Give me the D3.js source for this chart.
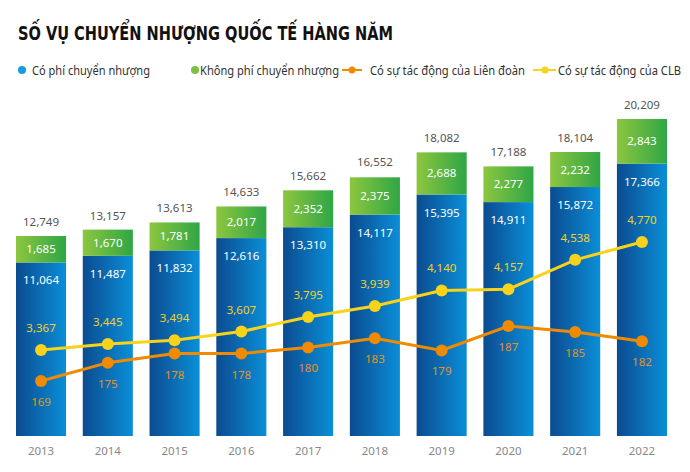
<!DOCTYPE html>
<html><head><meta charset="utf-8">
<script src="https://cdn.jsdelivr.net/npm/d3@7"></script>
<style>body{margin:0;background:#fff;}svg{display:block;font-family:"Noto Sans",sans-serif;}</style>
</head><body><div id="chart"></div>
<script>
const years = ["2013","2014","2015","2016","2017","2018","2019","2020","2021","2022"];
const feeValues = [11064,11487,11832,12616,13310,14117,15395,14911,15872,17366];
const freeValues = [1685,1670,1781,2017,2352,2375,2688,2277,2232,2843];
const totalValues = [12749,13157,13613,14633,15662,16552,18082,17188,18104,20209];
const federationValues = [169,175,178,178,180,183,179,187,185,182];
const clubValues = [3367,3445,3494,3607,3795,3939,4140,4157,4538,4770];
const legendLabels = ["Có phí chuyển nhượng","Không phí chuyển nhượng","Có sự tác động của Liên đoàn","Có sự tác động của CLB"];
const title = "SỐ VỤ CHUYỂN NHƯỢNG QUỐC TẾ HÀNG NĂM";

const W=690,H=472;
const svg=d3.select("#chart").append("svg").attr("width",W).attr("height",H);
const defs=svg.append("defs");
const gb=defs.append("linearGradient").attr("id","gBlue").attr("x1","0").attr("x2","1").attr("y1","0").attr("y2","0");
gb.append("stop").attr("offset","0").attr("stop-color","#0b4b90");
gb.append("stop").attr("offset","1").attr("stop-color","#0a8fd8");
const gg=defs.append("linearGradient").attr("id","gGreen").attr("x1","0").attr("x2","1").attr("y1","0").attr("y2","0");
gg.append("stop").attr("offset","0").attr("stop-color","#8dc63f");
gg.append("stop").attr("offset","1").attr("stop-color","#2ea646");

const x=d3.scaleBand().domain(years).range([16,667]).paddingInner(0.25).paddingOuter(0);
const y=d3.scaleLinear().domain([0,20209]).range([436,119]);
const yClub=d3.scaleLinear().domain([3367,4770]).range([350,242]);
const yFed=d3.scaleLinear().domain([169,187]).range([381,326]);
const bw=x.bandwidth();
const fmt=d3.format(",");

// title
svg.append("text").attr("x",18).attr("y",40).text(title)
  .attr("font-family","'DejaVu Sans Condensed','Liberation Sans Narrow',sans-serif")
  .attr("font-weight","bold").attr("font-size",19).attr("fill","#111")
  .attr("textLength",375).attr("lengthAdjust","spacingAndGlyphs");

// legend
const lg=svg.append("g").attr("font-size",12).attr("fill","#333");
const legendText=(xx,w,t)=>lg.append("text").attr("x",xx).attr("y",74.5).text(t).attr("textLength",w).attr("lengthAdjust","spacingAndGlyphs");
lg.append("circle").attr("cx",22).attr("cy",70).attr("r",4).attr("fill","#1a9be0");
legendText(32,118,legendLabels[0]);
lg.append("circle").attr("cx",195).attr("cy",70).attr("r",4).attr("fill","#7cc242");
legendText(200,139,legendLabels[1]);
lg.append("line").attr("x1",342).attr("x2",362).attr("y1",70).attr("y2",70).attr("stroke","#f08a00").attr("stroke-width",2);
lg.append("circle").attr("cx",352).attr("cy",70).attr("r",3.5).attr("fill","#f08a00");
legendText(370,155,legendLabels[2]);
lg.append("line").attr("x1",533).attr("x2",556).attr("y1",70).attr("y2",70).attr("stroke","#f9d21a").attr("stroke-width",2);
lg.append("circle").attr("cx",545).attr("cy",70).attr("r",3.5).attr("fill","#f9d21a");
legendText(558,123,legendLabels[3]);

// bars
const bars=svg.append("g");
bars.selectAll(".b").data(years).join("rect")
  .attr("x",d=>x(d)).attr("width",bw)
  .attr("y",(d,i)=>y(feeValues[i])).attr("height",(d,i)=>y(0)-y(feeValues[i]))
  .attr("fill","url(#gBlue)");
bars.selectAll(".g").data(years).join("rect")
  .attr("x",d=>x(d)).attr("width",bw)
  .attr("y",(d,i)=>y(feeValues[i]+freeValues[i])).attr("height",(d,i)=>y(feeValues[i])-y(feeValues[i]+freeValues[i]))
  .attr("fill","url(#gGreen)");

const lab=svg.append("g").attr("font-size",11.5).attr("text-anchor","middle");
years.forEach((yr,i)=>{
  const cx=x(yr)+bw/2;
  lab.append("text").attr("x",cx).attr("y",y(totalValues[i])-10).attr("fill","#555").text(fmt(totalValues[i]));
  lab.append("text").attr("x",cx).attr("y",(y(feeValues[i])+y(feeValues[i]+freeValues[i]))/2+4).attr("fill","#fff").text(fmt(freeValues[i]));
  lab.append("text").attr("x",cx).attr("y",y(feeValues[i])+22).attr("fill","#fff").text(fmt(feeValues[i]));
  lab.append("text").attr("x",cx).attr("y",yClub(clubValues[i])-18).attr("fill","#f3d12a").text(fmt(clubValues[i]));
  lab.append("text").attr("x",cx).attr("y",yFed(federationValues[i])+25).attr("fill","#e6921c").text(fmt(federationValues[i]));
  lab.append("text").attr("x",cx).attr("y",455).attr("fill","#888").text(yr);
});

// lines
const lineClub=d3.line().x((d,i)=>x(years[i])+bw/2).y(d=>yClub(d));
const lineFed=d3.line().x((d,i)=>x(years[i])+bw/2).y(d=>yFed(d));
svg.append("path").attr("d",lineFed(federationValues)).attr("fill","none").attr("stroke","#f08a00").attr("stroke-width",3);
svg.append("path").attr("d",lineClub(clubValues)).attr("fill","none").attr("stroke","#f9d21a").attr("stroke-width",3);
svg.append("g").selectAll("circle").data(federationValues).join("circle")
  .attr("cx",(d,i)=>x(years[i])+bw/2).attr("cy",d=>yFed(d)).attr("r",6).attr("fill","#f08a00");
svg.append("g").selectAll("circle").data(clubValues).join("circle")
  .attr("cx",(d,i)=>x(years[i])+bw/2).attr("cy",d=>yClub(d)).attr("r",6).attr("fill","#f9d21a");
</script></body></html>
